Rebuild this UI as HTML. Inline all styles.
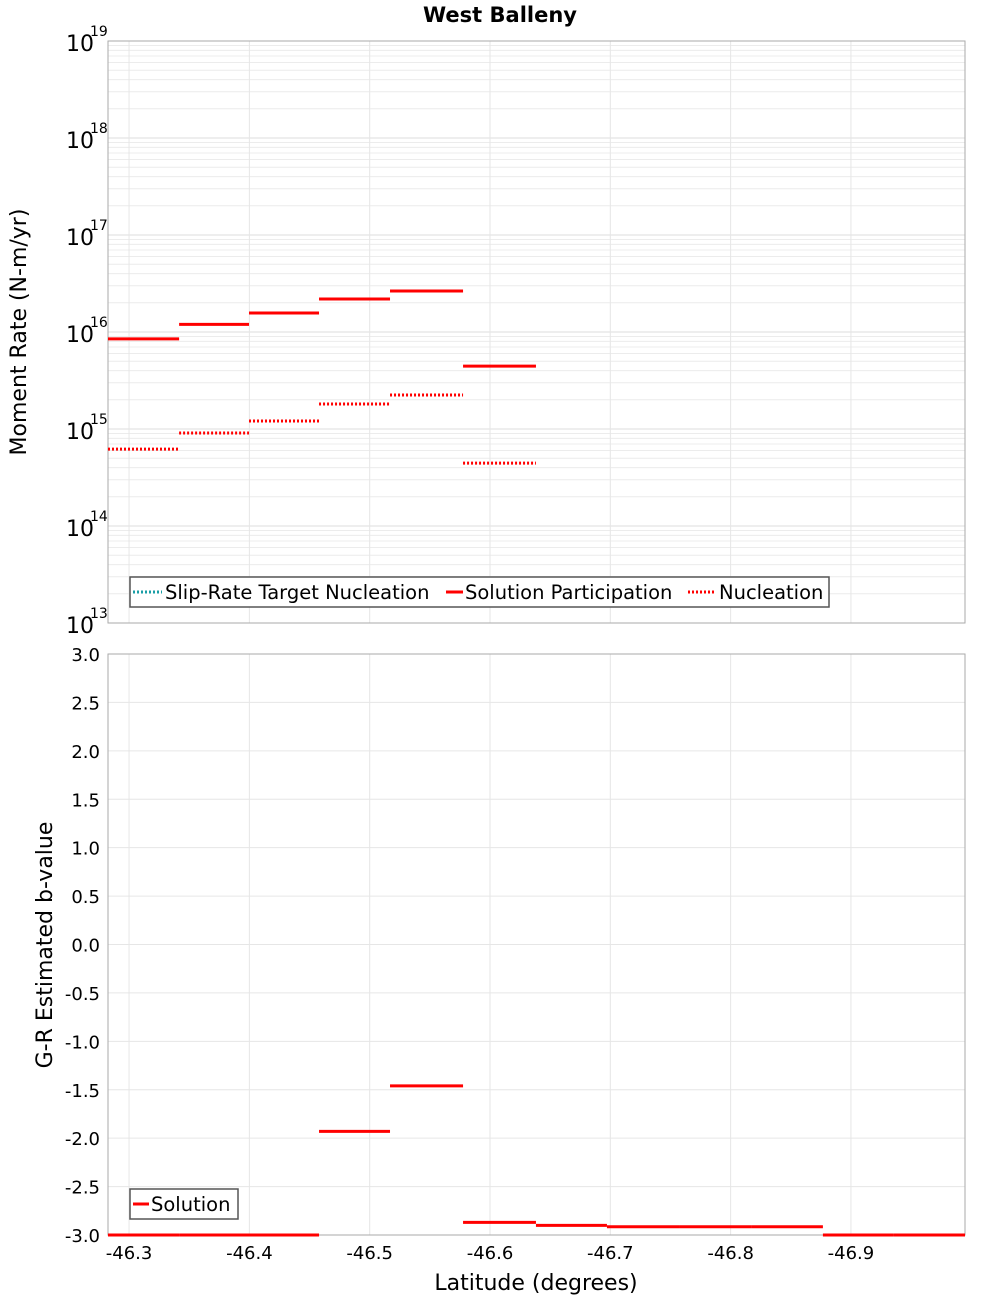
<!DOCTYPE html>
<html><head><meta charset="utf-8"><style>
body{margin:0;background:#fff;font-family:"DejaVu Sans","Liberation Sans",sans-serif;}
svg text{font-family:"DejaVu Sans","Liberation Sans",sans-serif;}
</style></head><body>
<svg id="c" width="1000" height="1300" xmlns="http://www.w3.org/2000/svg">
<text x="500" y="22" text-anchor="middle" font-size="21" font-weight="bold">West Balleny</text>
<g id="topG"></g><g id="botG"></g>
</svg>
<script>
const bounds=[-46.2825,-46.3416,-46.3997,-46.4579,-46.5169,-46.5776,-46.6382,-46.6972,-46.7579,-46.8177,-46.8767,-46.9357,-46.9948];
const participation=[8.5e15,1.2e16,1.57e16,2.19e16,2.65e16,4.45e15];
const nucleation=[6.2e14,9.1e14,1.21e15,1.81e15,2.24e15,4.45e14];
const bvalues=[-3.0,-3.0,-3.0,-1.93,-1.46,-2.87,-2.90,-2.915,-2.915,-2.915,-3.0,-3.0];
const xTicks=[-46.3,-46.4,-46.5,-46.6,-46.7,-46.8,-46.9];
const decades=[13,14,15,16,17,18,19];
const bTicks=[3.0,2.5,2.0,1.5,1.0,0.5,0.0,-0.5,-1.0,-1.5,-2.0,-2.5,-3.0];
const NS="http://www.w3.org/2000/svg";
const L=108,R=965,T1=41,B1=623,T2=654,B2=1235;
const X=v=>L+(v-bounds[0])/(bounds[bounds.length-1]-bounds[0])*(R-L);
const Y1=v=>B1-(Math.log10(v)-13)/6*(B1-T1);
const Y2=v=>B2-(v+3)/6*(B2-T2);
function mk(p,t,a){const e=document.createElementNS(NS,t);for(const k in a)e.setAttribute(k,a[k]);p.appendChild(e);return e;}
const topG=document.getElementById('topG'),botG=document.getElementById('botG');
mk(topG,'rect',{x:L,y:T1,width:R-L,height:B1-T1,fill:'#fff'});
mk(botG,'rect',{x:L,y:T2,width:R-L,height:B2-T2,fill:'#fff'});
for(let d=13;d<19;d++)for(let m=1;m<10;m++){const y=Y1(m*Math.pow(10,d));
 const g=mk(topG,'line',{x1:L,x2:R,y1:y,y2:y,stroke:m==1?'#dcdcdc':'#ececec','stroke-width':1});
 
 }
xTicks.forEach(v=>{const x=X(v);
 const g1=mk(topG,'line',{x1:x,x2:x,y1:T1,y2:B1,stroke:'#e6e6e6'});
 
 
 const g2=mk(botG,'line',{x1:x,x2:x,y1:T2,y2:B2,stroke:'#e6e6e6'});
 
 
 const t=mk(botG,'text',{x:x,y:B2+24,'text-anchor':'middle','font-size':18});t.textContent=v.toFixed(1);
 
 });
decades.forEach(d=>{const y=Y1(Math.pow(10,d));
 const t=mk(topG,'text',{x:66,y:y+10,'font-size':22});t.textContent='10';
 
 
 const s=mk(topG,'text',{x:90,y:y-5,'font-size':14});s.textContent=String(d);
 
 });
bTicks.forEach(v=>{const y=Y2(v);
 const g=mk(botG,'line',{x1:L,x2:R,y1:y,y2:y,stroke:'#e6e6e6'});
 
 
 const t=mk(botG,'text',{x:100,y:y+7,'text-anchor':'end','font-size':18});t.textContent=v.toFixed(1);
 
 });
mk(topG,'rect',{x:L,y:T1,width:R-L,height:B1-T1,fill:'none',stroke:'#aaa'});
mk(botG,'rect',{x:L,y:T2,width:R-L,height:B2-T2,fill:'none',stroke:'#aaa'});
participation.forEach((v,i)=>{const l=mk(topG,'line',{x1:X(bounds[i]),x2:X(bounds[i+1]),y1:Y1(v),y2:Y1(v),stroke:'#f00','stroke-width':3});
 
 });
nucleation.forEach((v,i)=>{const l=mk(topG,'line',{x1:X(bounds[i]),x2:X(bounds[i+1]),y1:Y1(v),y2:Y1(v),stroke:'#f00','stroke-width':3,'stroke-dasharray':'2,2'});
 
 });
bvalues.forEach((v,i)=>{const l=mk(botG,'line',{x1:X(bounds[i]),x2:X(bounds[i+1]),y1:Y2(v),y2:Y2(v),stroke:'#f00','stroke-width':3});
 
 });
</script>
<svg style="position:absolute;left:0;top:0" width="1000" height="1300" xmlns="http://www.w3.org/2000/svg">
<text transform="translate(26,332) rotate(-90)" text-anchor="middle" font-size="22">Moment Rate (N-m/yr)</text>
<text transform="translate(52,945) rotate(-90)" text-anchor="middle" font-size="22">G-R Estimated b-value</text>
<text x="536" y="1290" text-anchor="middle" font-size="22">Latitude (degrees)</text>
<g>
<rect x="130" y="577" width="699" height="30" fill="#fff" stroke="#555" stroke-width="1.5"/>
<line x1="133" x2="162" y1="592" y2="592" stroke="#1a9ea6" stroke-width="3" stroke-dasharray="2,2"/>
<text x="165" y="599" font-size="19.5">Slip-Rate Target Nucleation</text>
<line x1="446" x2="463" y1="592" y2="592" stroke="#f00" stroke-width="3"/>
<text x="465" y="599" font-size="19.5">Solution Participation</text>
<line x1="688" x2="716" y1="592" y2="592" stroke="#f00" stroke-width="3" stroke-dasharray="2,2"/>
<text x="719" y="599" font-size="19.5">Nucleation</text>
</g>
<g>
<rect x="130" y="1189" width="108" height="30" fill="#fff" stroke="#555" stroke-width="1.5"/>
<line x1="133" x2="149" y1="1204" y2="1204" stroke="#f00" stroke-width="3"/>
<text x="151" y="1211" font-size="19.5">Solution</text>
</g>
</svg>
</body></html>
